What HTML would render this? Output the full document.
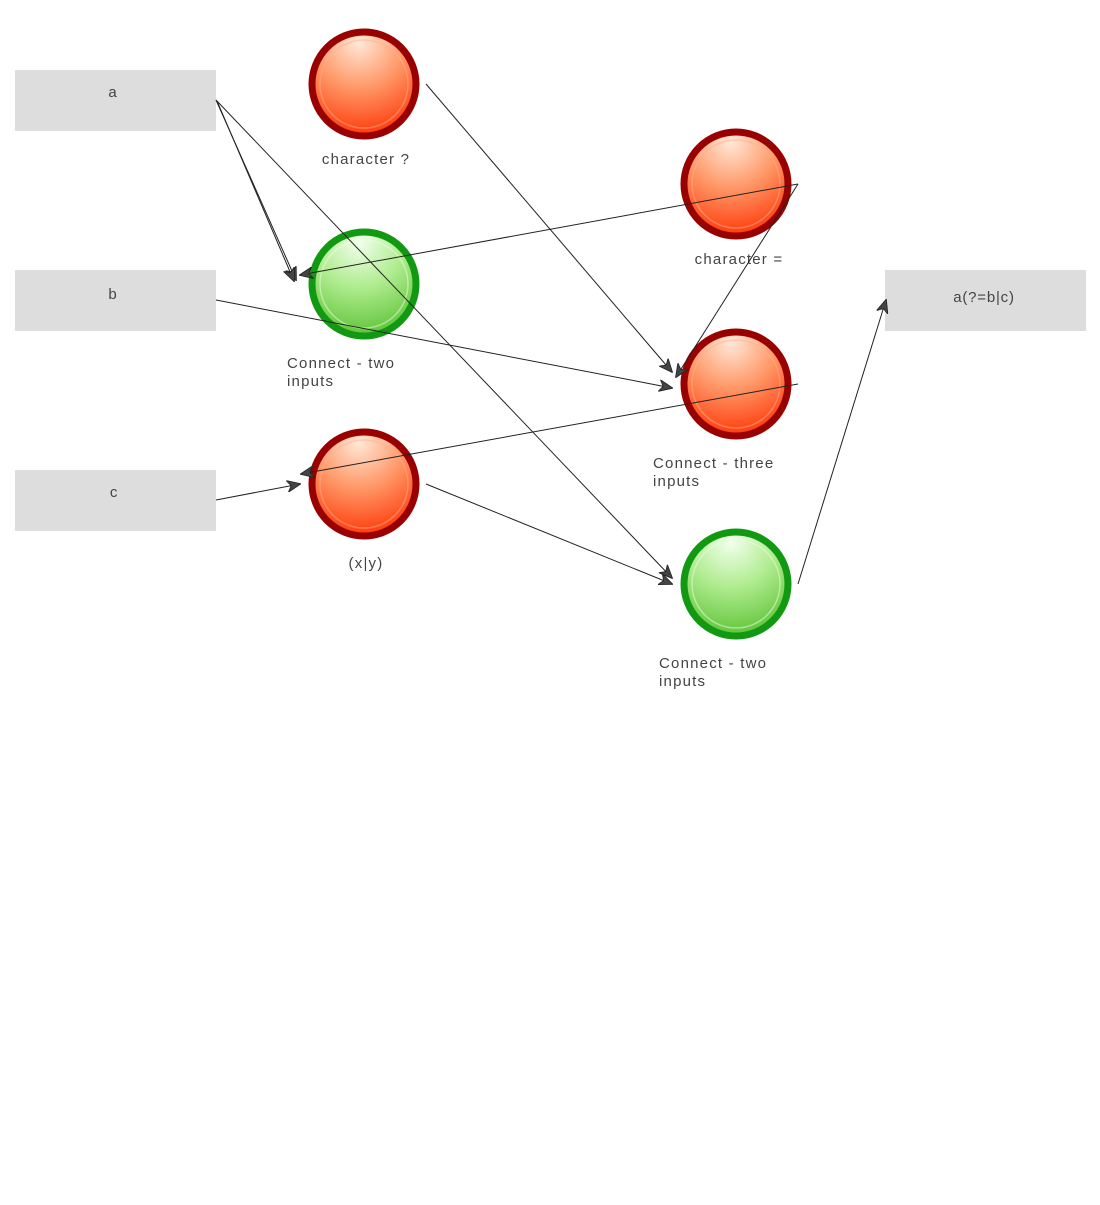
<!DOCTYPE html>
<html><head><meta charset="utf-8"><style>
body{margin:0;background:#fff;width:1100px;height:1200px;overflow:hidden;font-family:"Liberation Sans",sans-serif;}
</style></head><body>
<svg width="1100" height="1200" xmlns="http://www.w3.org/2000/svg" font-family="Liberation Sans, sans-serif" font-size="15" fill="#333">
<defs>
<radialGradient id="r" cx="0.45" cy="0.1" r="0.95">
<stop offset="0" stop-color="#ffe8d8"/><stop offset="0.45" stop-color="#ff9a6a"/><stop offset="1" stop-color="#ff3000"/></radialGradient>
<radialGradient id="g" cx="0.45" cy="0.1" r="0.95">
<stop offset="0" stop-color="#f2ffec"/><stop offset="0.45" stop-color="#b0ec90"/><stop offset="1" stop-color="#58c030"/></radialGradient>
<marker id="ar" markerWidth="14" markerHeight="12" refX="13" refY="6" orient="auto" markerUnits="userSpaceOnUse">
<path d="M0,0 L14,6 L0,12 L4,6 Z" fill="#444" stroke="#222" stroke-width="0.8"/></marker>
</defs>
<rect x="15" y="70" width="201" height="61" fill="#dddddd"/>
<rect x="15" y="270" width="201" height="61" fill="#dddddd"/>
<rect x="15" y="470" width="201" height="61" fill="#dddddd"/>
<rect x="885" y="270" width="201" height="61" fill="#dddddd"/>
<g fill="#444" letter-spacing="0.8">
<text x="113" y="97" text-anchor="middle">a</text>
<text x="113" y="299" text-anchor="middle">b</text>
<text x="114" y="497" text-anchor="middle">c</text>
<text x="984" y="302" text-anchor="middle">a(?=b|c)</text>
</g>
<g stroke-width="7">
<circle cx="364" cy="84" r="52" fill="url(#r)" stroke="#990000"/>
<circle cx="364" cy="284" r="52" fill="url(#g)" stroke="#119911"/>
<circle cx="364" cy="484" r="52" fill="url(#r)" stroke="#990000"/>
<circle cx="736" cy="184" r="52" fill="url(#r)" stroke="#990000"/>
<circle cx="736" cy="384" r="52" fill="url(#r)" stroke="#990000"/>
<circle cx="736" cy="584" r="52" fill="url(#g)" stroke="#119911"/>
</g>
<g fill="none" stroke-width="1.5" opacity="0.5">
<circle cx="364" cy="84" r="44" stroke="#ffb090"/><circle cx="364" cy="484" r="44" stroke="#ffb090"/>
<circle cx="736" cy="184" r="44" stroke="#ffb090"/><circle cx="736" cy="384" r="44" stroke="#ffb090"/>
<circle cx="364" cy="284" r="44" stroke="#e8ffe0"/><circle cx="736" cy="584" r="44" stroke="#e8ffe0"/>
</g>
<g font-size="15" fill="#444" letter-spacing="1.2">
<text x="366" y="164" text-anchor="middle">character ?</text>
<text x="287" y="368">Connect - two</text><text x="287" y="386">inputs</text>
<text x="366" y="568" text-anchor="middle">(x|y)</text>
<text x="739" y="264" text-anchor="middle">character =</text>
<text x="653" y="468">Connect - three</text><text x="653" y="486">inputs</text>
<text x="659" y="668">Connect - two</text><text x="659" y="686">inputs</text>
</g>
<g stroke="#222" stroke-width="1" fill="none" marker-end="url(#ar)">
<line x1="216" y1="100" x2="296" y2="280"/>
<line x1="217" y1="101" x2="294" y2="281"/>
<line x1="216" y1="100" x2="672" y2="578"/>
<line x1="798" y1="184" x2="300" y2="275"/>
<line x1="426" y1="84" x2="672" y2="372"/>
<line x1="798" y1="184" x2="676" y2="377"/>
<line x1="216" y1="300" x2="672" y2="388"/>
<line x1="798" y1="384" x2="301" y2="474"/>
<line x1="216" y1="500" x2="300" y2="484"/>
<line x1="426" y1="484" x2="672" y2="584"/>
<line x1="798" y1="584" x2="886" y2="300"/>
</g>
</svg>
</body></html>
